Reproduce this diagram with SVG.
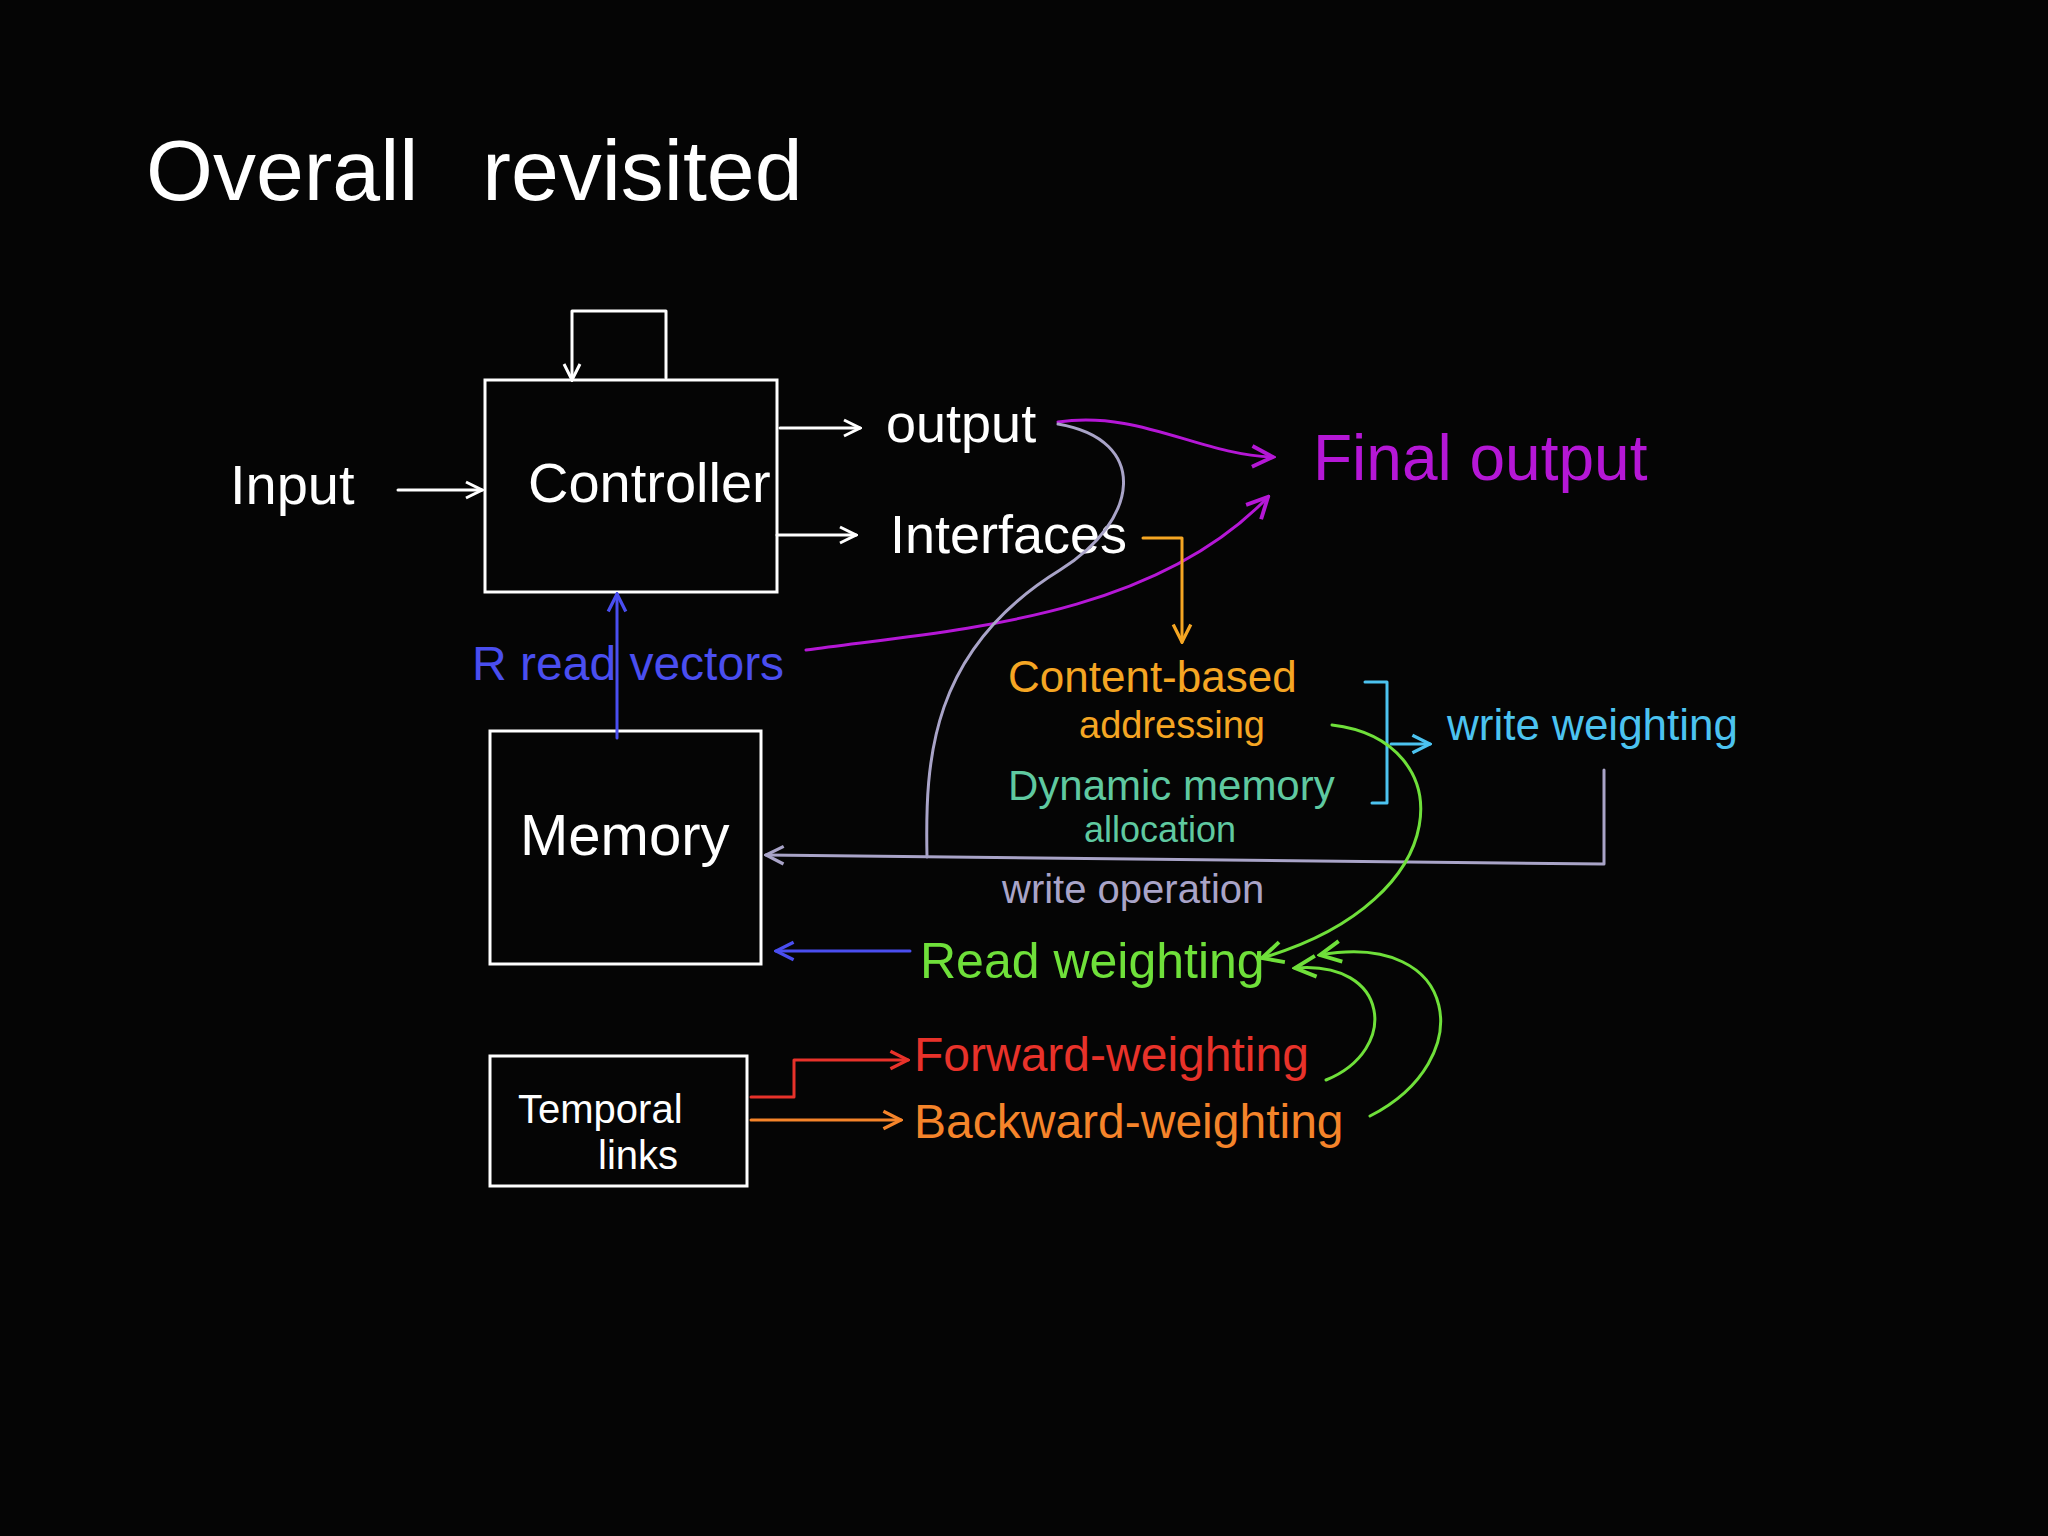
<svg xmlns="http://www.w3.org/2000/svg" width="2048" height="1536" viewBox="0 0 2048 1536">
<defs>
<style>
text{font-family:"Liberation Sans","DejaVu Sans",sans-serif;}
.w{stroke:#fff;stroke-width:3;fill:none}
.l{fill:none;stroke-width:3;stroke-linecap:round;stroke-linejoin:round}
</style>
<marker id="aw" viewBox="0 0 20 20" refX="18" refY="10" markerWidth="20" markerHeight="20" markerUnits="userSpaceOnUse" orient="auto"><path d="M2,2 L18,10 L2,18" fill="none" stroke="#fff" stroke-width="3"/></marker>
<marker id="am" viewBox="0 0 20 20" refX="18" refY="10" markerWidth="26" markerHeight="26" markerUnits="userSpaceOnUse" orient="auto"><path d="M2,2 L18,10 L2,18" fill="none" stroke="#b517d6" stroke-width="3"/></marker>
<marker id="ab" viewBox="0 0 20 20" refX="18" refY="10" markerWidth="22" markerHeight="22" markerUnits="userSpaceOnUse" orient="auto"><path d="M2,2 L18,10 L2,18" fill="none" stroke="#4a4ef0" stroke-width="3"/></marker>
<marker id="ao" viewBox="0 0 20 20" refX="18" refY="10" markerWidth="22" markerHeight="22" markerUnits="userSpaceOnUse" orient="auto"><path d="M2,2 L18,10 L2,18" fill="none" stroke="#f5a623" stroke-width="3"/></marker>
<marker id="ac" viewBox="0 0 20 20" refX="18" refY="10" markerWidth="22" markerHeight="22" markerUnits="userSpaceOnUse" orient="auto"><path d="M2,2 L18,10 L2,18" fill="none" stroke="#4cc3f0" stroke-width="3"/></marker>
<marker id="ag" viewBox="0 0 20 20" refX="18" refY="10" markerWidth="22" markerHeight="22" markerUnits="userSpaceOnUse" orient="auto"><path d="M2,2 L18,10 L2,18" fill="none" stroke="#a9a4c8" stroke-width="3"/></marker>
<marker id="agr" viewBox="0 0 20 20" refX="18" refY="10" markerWidth="26" markerHeight="26" markerUnits="userSpaceOnUse" orient="auto"><path d="M2,2 L18,10 L2,18" fill="none" stroke="#6fe03a" stroke-width="3"/></marker>
<marker id="ar" viewBox="0 0 20 20" refX="18" refY="10" markerWidth="22" markerHeight="22" markerUnits="userSpaceOnUse" orient="auto"><path d="M2,2 L18,10 L2,18" fill="none" stroke="#e8322a" stroke-width="3"/></marker>
<marker id="aor" viewBox="0 0 20 20" refX="18" refY="10" markerWidth="22" markerHeight="22" markerUnits="userSpaceOnUse" orient="auto"><path d="M2,2 L18,10 L2,18" fill="none" stroke="#f5842a" stroke-width="3"/></marker>
</defs>
<rect width="2048" height="1536" fill="#050505"/>
<text x="146" y="200" font-size="86" fill="#fff">Overall  <tspan dx="40">revisited</tspan></text>

<g id="controller"><rect x="485" y="380" width="292" height="212" class="w"/><text x="528" y="502" font-size="56" fill="#fff">Controller</text></g>
<g id="memory"><rect x="490" y="731" width="271" height="233" class="w"/><text x="520" y="855" font-size="58" fill="#fff">Memory</text></g>
<g id="temporal"><rect x="490" y="1056" width="257" height="130" class="w"/><text x="518" y="1123" font-size="40" fill="#fff">Temporal</text><text x="598" y="1169" font-size="40" fill="#fff">links</text></g>
<g id="input"><text x="230" y="504" font-size="56" fill="#fff">Input</text></g>
<g id="output"><text x="886" y="442" font-size="54" fill="#fff">output</text></g>
<g id="interfaces"><text x="890" y="553" font-size="54" fill="#fff">Interfaces</text></g>
<g id="final"><text x="1313" y="480" font-size="64" fill="#b517d6">Final output</text></g>
<g id="rread"><text x="472" y="680" font-size="48" fill="#4a4ef0">R read vectors</text></g>
<g id="content"><text x="1008" y="692" font-size="44" fill="#f5a623">Content-based</text><text x="1079" y="738" font-size="38" fill="#f5a623">addressing</text></g>
<g id="dynamic"><text x="1008" y="800" font-size="42" fill="#5fc9a0">Dynamic memory</text><text x="1084" y="842" font-size="36" fill="#5fc9a0">allocation</text></g>
<g id="writew"><text x="1447" y="740" font-size="44" fill="#4cc3f0">write weighting</text></g>
<g id="writeop"><text x="1002" y="903" font-size="40" fill="#a9a4c8">write operation</text></g>
<g id="readw"><text x="920" y="978" font-size="50" fill="#6fe03a">Read weighting</text></g>
<g id="fwd"><text x="914" y="1071" font-size="48" fill="#e8322a">Forward-weighting</text></g>
<g id="bwd"><text x="914" y="1138" font-size="48" fill="#f5842a">Backward-weighting</text></g>

<g id="connectors">
<path class="l" stroke="#fff" d="M666,378 V311 H572 V380" marker-end="url(#aw)"/>
<path class="l" stroke="#fff" d="M398,490 H482" marker-end="url(#aw)"/>
<path class="l" stroke="#fff" d="M780,428 H860" marker-end="url(#aw)"/>
<path class="l" stroke="#fff" d="M777,535 H856" marker-end="url(#aw)"/>
<path class="l" stroke="#b517d6" d="M1058,422 C1140,410 1200,455 1273,457" marker-end="url(#am)"/>
<path class="l" stroke="#b517d6" d="M806,650 C950,630 1150,620 1268,497" marker-end="url(#am)"/>
<path class="l" stroke="#4a4ef0" d="M617,738 V594" marker-end="url(#ab)"/>
<path class="l" stroke="#f5a623" d="M1143,538 H1182 V642" marker-end="url(#ao)"/>
<path class="l" stroke="#4cc3f0" d="M1365,682 H1387 V803 H1372"/>
<path class="l" stroke="#4cc3f0" d="M1391,744 H1430" marker-end="url(#ac)"/>
<path class="l" stroke="#a9a4c8" d="M1604,770 V864 L766,855" marker-end="url(#ag)"/>
<path class="l" stroke="#a9a4c8" d="M1058,424 C1150,440 1140,520 1060,570 C930,650 925,760 927,857"/>
<path class="l" stroke="#4a4ef0" d="M910,951 H776" marker-end="url(#ab)"/>
<path class="l" stroke="#6fe03a" d="M1332,725 C1460,740 1460,900 1262,958" marker-end="url(#agr)"/>
<path class="l" stroke="#6fe03a" d="M1326,1080 C1400,1050 1390,960 1295,968" marker-end="url(#agr)"/>
<path class="l" stroke="#6fe03a" d="M1370,1116 C1480,1060 1460,930 1320,955" marker-end="url(#agr)"/>
<path class="l" stroke="#e8322a" d="M751,1097 H794 V1060 H908" marker-end="url(#ar)"/>
<path class="l" stroke="#f5842a" d="M751,1120 H901" marker-end="url(#aor)"/>
</g>
</svg>
